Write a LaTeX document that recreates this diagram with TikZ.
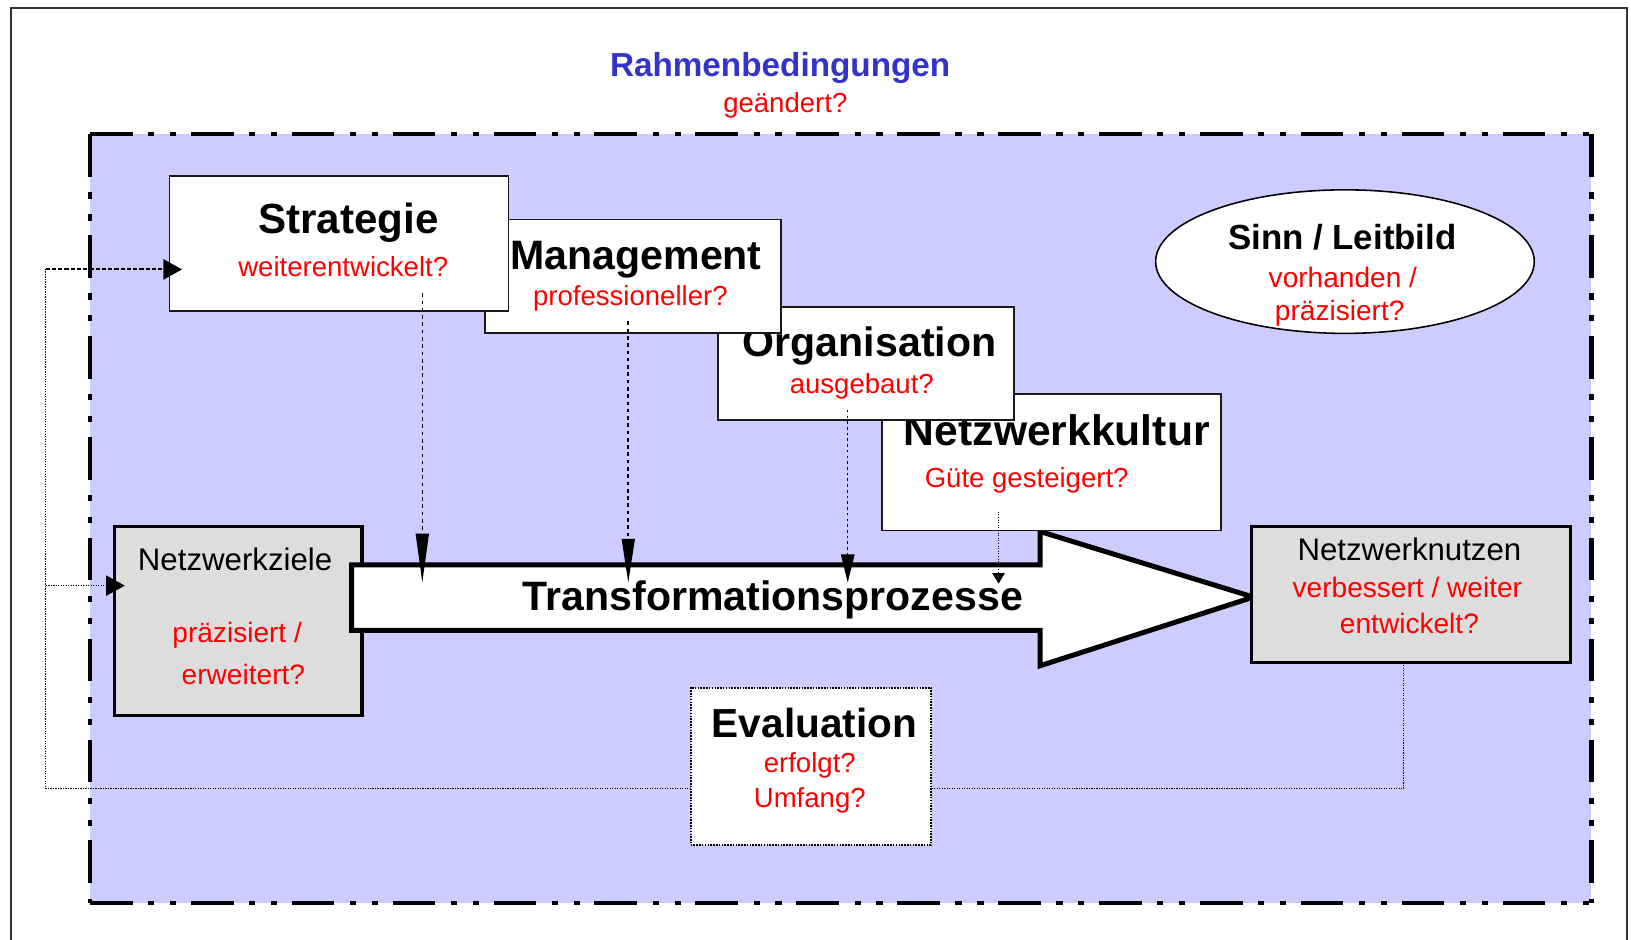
\documentclass[tikz,border=0pt]{standalone}
\usepackage{fontspec}
\setmainfont{Liberation Sans}
\usetikzlibrary{arrows.meta,shapes.geometric}
\definecolor{lav}{HTML}{CCCCFF}
\definecolor{qred}{HTML}{FF0000}
\definecolor{qblue}{HTML}{3333CC}
\definecolor{qgray}{HTML}{DDDDDD}
\begin{document}
\begin{tikzpicture}[x=1pt,y=-1pt,
  wbox/.style={draw=black!90, line width=1.5pt, fill=white, inner sep=0pt, outer sep=0pt},
  gbox/.style={draw=black, line width=3.3pt, fill=qgray, inner sep=0pt, outer sep=0pt},
  ttl/.style={font=\fontsize{39.5}{39.5}\selectfont\bfseries, inner sep=0pt, anchor=base},
  sub/.style={text=qred, font=\fontsize{26.5}{26.5}\selectfont, inner sep=0pt, anchor=base},
  nrm/.style={font=\fontsize{30}{30}\selectfont, inner sep=0pt, anchor=base},
  frameline/.style={line width=4.2pt, dash pattern=on 41pt off 15pt on 6pt off 15pt on 6pt off 14pt},
  vdash/.style={line width=1.5pt, dash pattern=on 3.5pt off 3.5pt},
  vdot/.style={line width=1pt, dash pattern=on 1pt off 1.5pt},
  fb/.style={line width=1.1pt, dash pattern=on 1.2pt off 1.2pt},
  fbarrow/.style={-{Triangle[length=18pt,width=19.5pt]}}
]
\useasboundingbox (0,0) rectangle (1568,903);
% outer frame
\draw[line width=2pt, draw=black!80] (11,910) -- (11,8) -- (1564,8) -- (1564,910);
% Rahmen area
\fill[lav] (86.5,129) rectangle (1530,868);
\draw[frameline] (86.5,129) -- (1530,129);
\draw[frameline] (1530,129) -- (1530,868);
\draw[frameline] (86.5,868) -- (1530,868);
\draw[frameline] (86.5,129) -- (86.5,868);
\node[font=\fontsize{32}{32}\selectfont\bfseries, text=qblue, anchor=base, inner sep=0pt] (rahmen) at (750,74) {Rahmenbedingungen};
\node[sub] (geaendert) at (755,108) {geändert?};

% Sinn / Leitbild
\node[ellipse, draw=black, line width=1.5pt, fill=white, minimum width=364pt, minimum height=138pt, inner sep=0pt] (sinn) at (1293,251.5) {};
\node[ttl, font=\fontsize{33.5}{33.5}\selectfont\bfseries] (sinnt) at (1290.5,240) {Sinn / Leitbild};
\node[sub, font=\fontsize{27}{27}\selectfont] (sinns1) at (1291,276) {vorhanden /};
\node[sub, font=\fontsize{27}{27}\selectfont] (sinns2) at (1288,308) {präzisiert?};

% Netzwerkziele
\node[gbox, minimum width=238pt, minimum height=182pt] (ziele) at (229,597) {};
\node[nrm] (zielet) at (226,548) {Netzwerkziele};
\node[sub, font=\fontsize{27}{27}\selectfont] (ziele1) at (228,618) {präzisiert /};
\node[sub, font=\fontsize{27}{27}\selectfont] (ziele2) at (234,658) {erweitert?};

% big arrow
\draw[line width=4.8pt, fill=white, line join=miter] (338,543) -- (1000,543) -- (1000,511) -- (1205,574) -- (1000,640) -- (1000,606) -- (338,606) -- cycle;
\node[ttl] (trans) at (743,587) {Transformationsprozesse};

% Netzwerknutzen
\node[gbox, minimum width=307pt, minimum height=131pt] (nutzen) at (1356.5,571.5) {};
\node[nrm] (nutzent) at (1355,539) {Netzwerknutzen};
\node[sub, font=\fontsize{27}{27}\selectfont] (nutzen1) at (1353,574) {verbessert / weiter};
\node[sub, font=\fontsize{27}{27}\selectfont] (nutzen3) at (1355,609) {entwickelt?};

% feedback loop
\coordinate (fbcorner) at (44,758);
\coordinate (fbtop) at (44,259);
\coordinate (fbmid) at (44,563);
\draw[fb] ([xshift=-7pt]nutzen.south) |- (fbcorner) -- (fbtop);
\draw[fb, fbarrow, shorten >=-10pt] (fbmid) -- (fbmid -| ziele.west);

% evaluation
\node[draw=black, fill=white, line width=2pt, dash pattern=on 1.5pt off 1.2pt, minimum width=231pt, minimum height=151pt, inner sep=0pt, outer sep=0pt] (eval) at (779.5,736.5) {};
\node[ttl, font=\fontsize{39}{39}\selectfont\bfseries] (evalt) at (783,709) {Evaluation};
\node[sub] (evals1) at (778.5,743) {erfolgt?};
\node[sub] (evals2) at (778.5,776) {Umfang?};

% stacked boxes (back to front)
\node[wbox, minimum width=326pt, minimum height=131pt] (kultur) at (1011,444.5) {};
\node[ttl, font=\fontsize{41}{41}\selectfont\bfseries] (kulturt) at (1016,428) {Netzwerkkultur};
\node[sub] (kulturs) at (987,469) {Güte gesteigert?};

\node[wbox, minimum width=285pt, minimum height=109pt] (org) at (832.5,349.5) {};
\node[ttl] (orgt) at (836,343) {Organisation};
\node[sub] (orgs) at (828.5,378) {ausgebaut?};

\node[wbox, minimum width=285pt, minimum height=109pt] (mgmt) at (608.5,265.5) {};
\node[ttl] (mgmtt) at (611.5,259.5) {Management};
\node[sub] (mgmts) at (606,294) {professioneller?};

\node[wbox, minimum width=326pt, minimum height=130pt] (strat) at (326,234) {};
\node[ttl, font=\fontsize{40.5}{40.5}\selectfont\bfseries] (stratt) at (335,224) {Strategie};
\node[sub] (strats) at (330,266) {weiterentwickelt?};

% feedback entry into Strategie
\draw[line width=2pt, dash pattern=on 4pt off 2pt, fbarrow, shorten >=-12pt] (fbtop) -- (fbtop -| strat.west);

% influence arrows onto the transformation
\coordinate (sA) at (406,282);  \coordinate (eA) at (406,560);
\coordinate (sB) at (604,309);  \coordinate (eB) at (604,560);
\coordinate (sC) at (815,394);  \coordinate (eC) at (815,560);
\coordinate (sD) at (960,492);  \coordinate (eD) at (960,561);
\draw[vdash, -{Triangle[length=47pt,width=12.5pt]}] (sA) -- (eA);
\draw[vdash, -{Triangle[length=42pt,width=12.5pt]}] (sB) -- (eB);
\draw[vdash, dash pattern=on 2.5pt off 3pt, line width=1.3pt, -{Triangle[length=27pt,width=13pt]}] (sC) -- (eC);
\draw[vdot, -{Triangle[length=10pt,width=12pt]}] (sD) -- (eD);
\end{tikzpicture}
\end{document}
